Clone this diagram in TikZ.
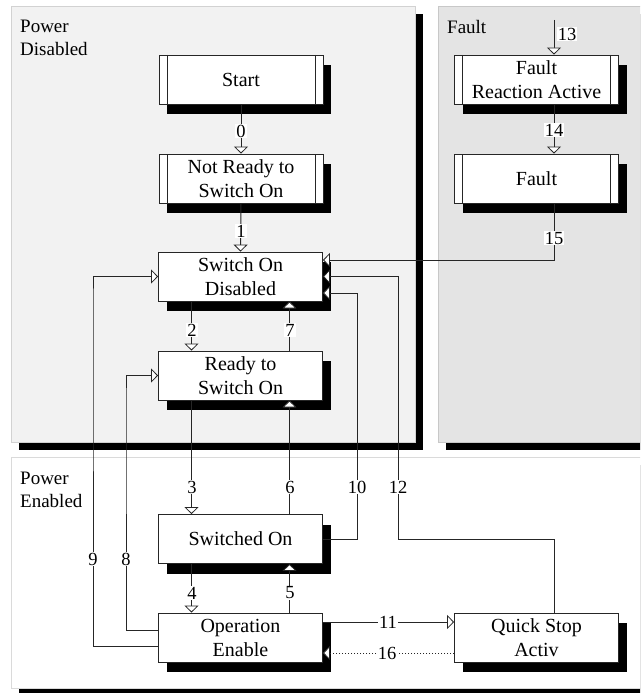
\documentclass[tikz,border=0pt]{standalone}
\usepackage{fontspec}
\setmainfont{Liberation Serif}
\usetikzlibrary{arrows.meta,shadows}

\definecolor{pdisfill}{HTML}{F2F2F2}
\definecolor{pdisedge}{HTML}{D2D2D2}
\definecolor{faultfill}{HTML}{E4E4E4}
\definecolor{faultedge}{HTML}{C8C8C8}
\definecolor{penedge}{HTML}{DADADA}
\definecolor{wire}{HTML}{262626}

\begin{document}
\begin{tikzpicture}[x=1pt,y=-1pt,
  state/.style={draw=black!85, fill=white, line width=0.8pt,
    minimum width=164pt, minimum height=49pt, inner sep=0pt, align=center,
    font=\fontsize{20}{24}\selectfont,
    general shadow={fill=black, shadow xshift=8pt, shadow yshift=-10pt}},
  dstate/.style={state, path picture={
    \draw[line width=0.8pt, black!85]
      ([xshift=8pt]path picture bounding box.north west) -- ([xshift=8pt]path picture bounding box.south west)
      ([xshift=-8pt]path picture bounding box.north east) -- ([xshift=-8pt]path picture bounding box.south east);}},
  arr/.style={draw=wire, line width=1pt,
    -{Triangle[length=7pt,width=14pt,fill=white,line width=0.8pt]}},
  num/.style={fill=white, inner sep=1pt, font=\fontsize{18.5}{18.5}\selectfont},
  area/.style={anchor=north west, inner sep=0pt, align=left,
    font=\fontsize{19}{23}\selectfont}
]
\useasboundingbox (0,0) rectangle (640,693);
\clip (0,0) rectangle (640,693);

% panels with their heavy offset shadows
\fill[black] (19,14) rectangle (423,450);
\filldraw[fill=pdisfill, draw=pdisedge, line width=0.8pt] (11,6) rectangle (415,442);
\fill[black] (446,14) rectangle (660,450);
\filldraw[fill=faultfill, draw=faultedge, line width=0.8pt] (438,6) rectangle (660,442);
\fill[black] (19,465) rectangle (660,700);
\filldraw[fill=white, draw=penedge, line width=0.8pt] (11,457) rectangle (660,688);

\node[area] (tdis) at (20,20) {Power\\Disabled};
\node[area] (tflt) at (447,20) {Fault};
\node[area] (ten) at (20,472) {Power\\Enabled};

% states
\node[dstate] (start) at (241,79.5) {Start};
\node[dstate] (nr) at (241,178.5) {Not Ready to\\Switch On};
\node[state] (sod) at (240.5,276.5) {Switch On\\Disabled};
\node[state] (rts) at (240.5,375.5) {Ready to\\Switch On};
\node[state] (so) at (240.5,539) {Switched On};
\node[state] (oe) at (240.5,637.5) {Operation\\Enable};
\node[state] (qs) at (536.5,637.5) {Quick Stop\\Activ};
\node[dstate] (fra) at (536.5,79.5) {Fault\\Reaction Active};
\node[dstate] (flt) at (536.5,178.5) {Fault};

% bend points
\coordinate (k13) at (554,20);
\coordinate (k12) at (398,539);
\coordinate (k10) at (357,539);
\coordinate (k9) at (93,300);
\coordinate (k8) at (126,400);

% transitions
\draw[arr] (start.south) -- (nr.north);
\draw[arr] (nr.south) -- (sod.north);
\draw[arr] ([xshift=-49pt]sod.south) -- ([xshift=-49pt]rts.north);
\draw[arr] ([xshift=49pt]rts.north) -- ([xshift=49pt]sod.south);
\draw[arr] ([xshift=-49pt]rts.south) -- ([xshift=-49pt]so.north);
\draw[arr] ([xshift=49pt]so.north) -- ([xshift=49pt]rts.south);
\draw[arr] ([xshift=-49pt]so.south) -- ([xshift=-49pt]oe.north);
\draw[arr] ([xshift=49pt]oe.north) -- ([xshift=49pt]so.south);
\draw[arr] ([yshift=-8.5pt]oe.west) -| (k9) |- (sod.west);
\draw[arr] ([yshift=7.5pt]oe.west) -| (k8) |- (rts.west);
\draw[arr] (so.east) -- (k10) |- ([yshift=-16.5pt]sod.east);
\draw[arr] ([yshift=15.5pt]oe.east) -- ([yshift=15.5pt]qs.west);
\draw[arr] ([xshift=17.5pt]qs.north) |- (k12) |- (sod.east);
\draw[arr] (k13) -- ([xshift=17.5pt]fra.north);
\draw[arr] ([xshift=17.5pt]fra.south) -- ([xshift=17.5pt]flt.north);
\draw[arr] ([xshift=17.5pt]flt.south) |- ([yshift=16.5pt]sod.east);
\draw[arr, dotted] ([yshift=-15.5pt]qs.west) -- ([yshift=-15.5pt]oe.east);

% transition numbers
\node[num] (l0) at (241,131) {0};
\node[num] (l1) at (241,231) {1};
\node[num] (l2) at (192,330) {2};
\node[num] (l7) at (290,330) {7};
\node[num] (l3) at (192,487) {3};
\node[num] (l6) at (290,487) {6};
\node[num] (l10) at (357,487) {10};
\node[num] (l12) at (398,487) {12};
\node[num] (l9) at (93,559) {9};
\node[num] (l8) at (126,559) {8};
\node[num] (l4) at (192,593) {4};
\node[num] (l5) at (290,593) {5};
\node[num] (l11) at (388,622) {11};
\node[num] (l16) at (387,653) {16};
\node[num] (l13) at (567,34) {13};
\node[num] (l14) at (554,130) {14};
\node[num] (l15) at (554,238) {15};
\end{tikzpicture}
\end{document}
